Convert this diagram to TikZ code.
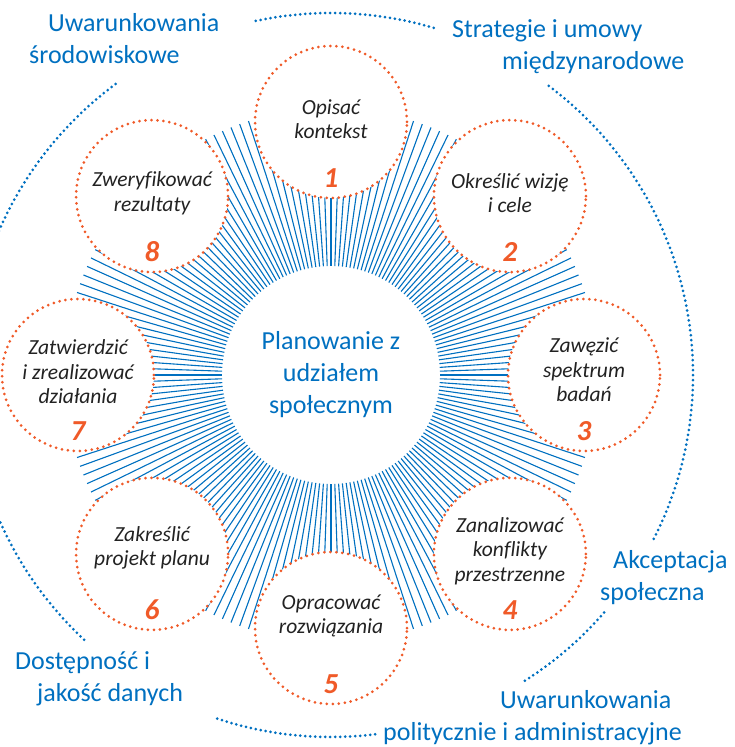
\documentclass[tikz,border=0pt]{standalone}
\usepackage{fontspec}
\setmainfont{Carlito}[Ligatures=NoCommon]
\usetikzlibrary{positioning}

\definecolor{planblue}{RGB}{0,112,192}
\definecolor{steporange}{RGB}{240,90,40}
\definecolor{stepdark}{RGB}{34,34,34}

\begin{document}
\begin{tikzpicture}[x=1pt, y=1pt,
        ray/.style={planblue, line width=1.1pt},
        stepcircle/.style={circle, draw=steporange, fill=white, line width=3pt, dash pattern=on 0pt off 6pt, line cap=round, minimum size=152pt, inner sep=0pt},
        steptext/.style={align=center, text=stepdark, font=\fontsize{21.5}{24.5}\selectfont\itshape},
        stepnum/.style={text=steporange, font=\fontsize{29}{29}\selectfont\bfseries\itshape},
        factor/.style={align=left, anchor=west, inner sep=0pt, text=planblue, font=\fontsize{26}{32}\selectfont},
        outerarc/.style={planblue, line width=3pt, dash pattern=on 0pt off 5pt, line cap=round}
    ]
        \useasboundingbox (-331,-372) rectangle (403,375);
        % rays round the hub
        \foreach \a in {0,2,...,358}
            \draw[ray] (\a:109) -- (\a:267);
        % outer ring of conditions
        \draw[outerarc] (102:362) arc[start angle=102, end angle=73, radius=362pt];
        \draw[outerarc] (53:362) arc[start angle=53, end angle=-27.6, radius=362pt];
        \draw[outerarc] (-41:362) arc[start angle=-41, end angle=-58, radius=362pt];
        \draw[outerarc] (-83:362) arc[start angle=-83, end angle=-109, radius=362pt];
        \draw[outerarc] (227:362) arc[start angle=227, end angle=126, radius=362pt];
        % hub
        \node[align=center, text=planblue, font=\fontsize{26}{32}\selectfont] (hub) at (0,0) {Planowanie z\\udziałem\\społecznym};
        % steps
        \foreach \ang/\num/\txt/\dy in {90/1/{Opisać\\kontekst}/3, 45/2/{Określić wizję\\i cele}/3, 0/3/{Zawęzić\\spektrum\\badań}/5, -45/4/{Zanalizować\\konflikty\\przestrzenne}/3, -90/5/{Opracować\\rozwiązania}/12, -135/6/{Zakreślić\\projekt planu}/6, 180/7/{Zatwierdzić\\i zrealizować\\działania}/3, 135/8/{Zweryfikować\\rezultaty}/3} {
            \node[stepcircle] (step\num) at (\ang:253) {};
            \node[steptext] (label\num) at ([yshift=\dy pt]step\num.center) {\txt};
            \node[stepnum] (num\num) at ([yshift=-56pt]step\num.center) {\num};
        }
        % conditions
        \node[factor] (env) at (-302,336) {\hspace*{19pt}Uwarunkowania\\środowiskowe};
        \node[factor] (strategy) at (121,328) {Strategie i umowy\\\hspace*{50pt}międzynarodowe};
        \node[factor] (accept) at (269,-203) {\hspace*{13pt}Akceptacja\\społeczna};
        \node[factor] (data) at (-316,-304) {Dostępność i\\\hspace*{22pt}jakość danych};
        \node[factor] (policy) at (52,-343) {\hspace*{117pt}Uwarunkowania\\politycznie i administracyjne};
    \end{tikzpicture}
\end{document}
